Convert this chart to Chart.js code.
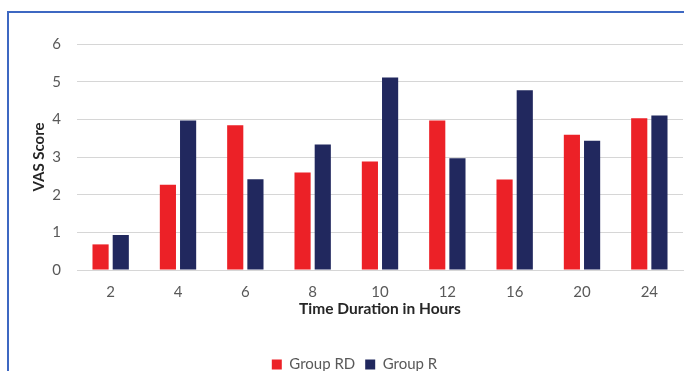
<!DOCTYPE html>
<html>
<head>
<meta charset="utf-8">
<script src="https://cdn.jsdelivr.net/npm/chart.js@4"></script>
<style>
    html, body { margin: 0; padding: 0; background: #fff; }
    #wrap { position: relative; width: 691px; height: 371px; overflow: hidden; }
    #frame {
        position: absolute; left: 7px; top: 11px; width: 675px; height: 400px;
        border-left: 2px solid #3e68c2; border-top: 2px solid #3e68c2;
    }
    #vas-chart { position: absolute; left: 0; top: 0; }
</style>
</head>
<body>
<div id="wrap">
    <div id="frame"></div>
    <canvas id="vas-chart" width="691" height="371"></canvas>
</div>
<script>
// values
var hours = ['2', '4', '6', '8', '10', '12', '16', '20', '24'];
var groupRD = [0.68, 2.26, 3.84, 2.59, 2.88, 3.97, 2.40, 3.59, 4.03];
var groupR = [0.93, 3.97, 2.41, 3.33, 5.11, 2.97, 4.77, 3.43, 4.10];
var yTicks = [0, 1, 2, 3, 4, 5, 6];

var fontName = 'Lato, "Open Sans", sans-serif';

const chartCanvas = document.getElementById('vas-chart');
var chart = new Chart(chartCanvas, {
    type: 'bar',
    data: {
        labels: hours,
        datasets: [{
            label: 'Group RD',
            data: groupRD,
            backgroundColor: '#ec2127',
            barPercentage: 0.8,
            categoryPercentage: 0.6
        }, {
            label: 'Group R',
            data: groupR,
            backgroundColor: '#21285e',
            barPercentage: 0.8,
            categoryPercentage: 0.6
        }]
    },
    options: {
        responsive: false,
        animation: false,
        layout: {
            // legend sits a little lower than the canvas allows, hence the negative bottom
            padding: { left: 26, right: 8, top: 44, bottom: -11 }
        },
        plugins: {
            tooltip: { enabled: false },
            legend: {
                position: 'bottom',
                labels: {
                    boxWidth: 10,
                    boxHeight: 10,
                    padding: 10,
                    color: '#595959',
                    font: { family: fontName, size: 15 }
                }
            }
        },
        scales: {
            x: {
                afterFit: function (axis) { axis.height = 77; },
                grid: { display: false, drawTicks: false },
                border: { display: true, color: '#d6d6d6', width: 1 },
                ticks: {
                    color: '#595959',
                    padding: 13,
                    font: { family: fontName, size: 15 }
                },
                title: {
                    display: true,
                    text: 'Time Duration in Hours',
                    color: '#262626',
                    padding: { top: 0, bottom: 29 },
                    font: { family: fontName, size: 15.5, weight: 'bold' }
                }
            },
            y: {
                min: yTicks[0],
                max: yTicks[yTicks.length - 1],
                afterBuildTicks: function (axis) {
                    axis.ticks = yTicks.map(function (v) { return { value: v }; });
                },
                afterFit: function (axis) { axis.width = 51; },
                grid: { color: '#d6d6d6', lineWidth: 1, drawTicks: false },
                border: { display: false },
                ticks: {
                    color: '#595959',
                    padding: 16,
                    font: { family: fontName, size: 15 }
                },
                title: {
                    display: true,
                    text: 'VAS Score',
                    color: '#262626',
                    padding: 4,
                    font: { family: fontName, size: 15, weight: 'bold' }
                }
            }
        }
    }
});
</script>
</body>
</html>
